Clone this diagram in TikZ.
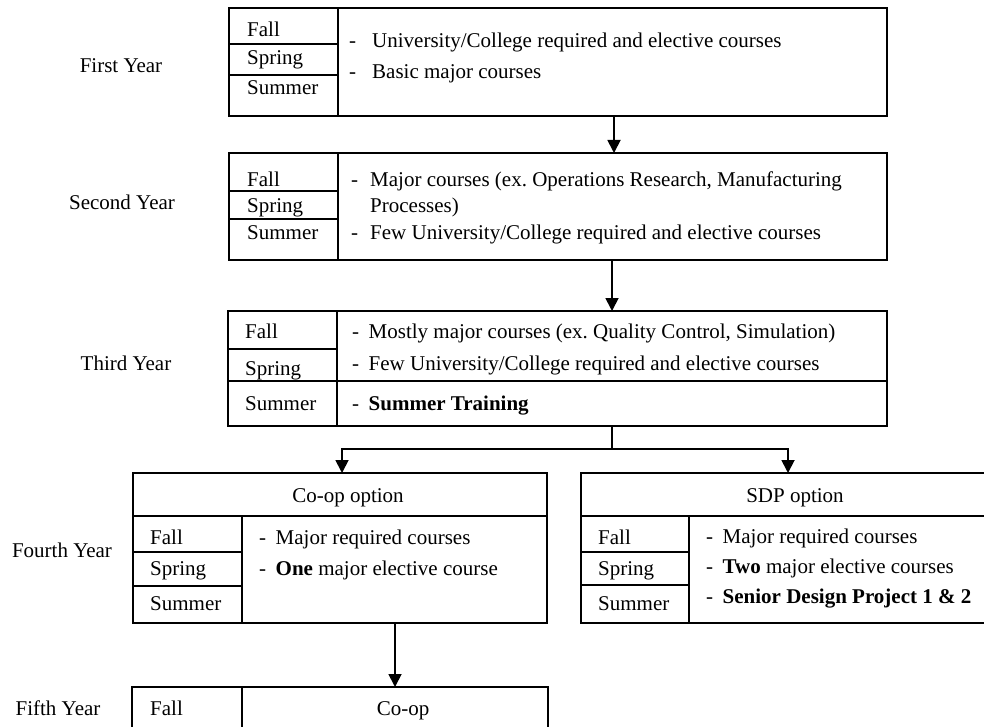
\documentclass[tikz,border=0pt]{standalone}
\usepackage{fontspec}
\setmainfont{Liberation Serif}
\usetikzlibrary{arrows.meta}
\newcommand\ditem[2][16.5pt]{\makebox[#1][l]{-}#2}
\frenchspacing
\begin{document}
\begin{tikzpicture}[x=1pt,y=-1pt,
  box/.style={draw, line width=1.6pt, inner sep=0, outer sep=0, anchor=north west},
  txt/.style={inner sep=0, anchor=base west, font=\fontsize{21}{25}\selectfont},
  ctxt/.style={inner sep=0, anchor=base, font=\fontsize{21}{25}\selectfont},
  rule/.style={line width=1.6pt},
  arr/.style={line width=1.8pt, -{Triangle[width=13pt,length=13pt]}},
  link/.style={line width=1.8pt}]
\path[use as bounding box] (0,0) rectangle (984,727);
\clip (0,0) rectangle (984,727);

% ---------- boxes ----------
\node[box, minimum width=658pt, minimum height=108pt] (y1) at (229,8) {};
\node[box, minimum width=658pt, minimum height=107pt] (y2) at (229,153) {};
\node[box, minimum width=659pt, minimum height=115pt] (y3) at (228,311) {};
\node[box, minimum width=414pt, minimum height=150pt] (coop) at (133,473) {};
\node[box, minimum width=420pt, minimum height=150pt] (sdp) at (581,473) {};
\node[box, minimum width=416pt, minimum height=70pt] (y5) at (132,687) {};

% ---------- internal rules ----------
\draw[rule] (338,8) -- (338,116);
\draw[rule] (229,44) -- (338,44);
\draw[rule] (229,75) -- (338,75);

\draw[rule] (338,153) -- (338,260);
\draw[rule] (229,191) -- (338,191);
\draw[rule] (229,219) -- (338,219);

\draw[rule] (337,311) -- (337,426);
\draw[rule] (228,349) -- (337,349);
\draw[rule] (228,381) -- (887,381);

\draw[rule] (133,516) -- (547,516);
\draw[rule] (242,516) -- (242,623);
\draw[rule] (133,552) -- (242,552);
\draw[rule] (133,586) -- (242,586);

\draw[rule] (581,516) -- (1001,516);
\draw[rule] (689,516) -- (689,623);
\draw[rule] (581,552) -- (689,552);
\draw[rule] (581,585) -- (689,585);

\draw[rule] (242,687) -- (242,757);

% ---------- year labels ----------
\node[ctxt] (l1) at (121,73) {First Year};
\node[ctxt] (l2) at (122,210) {Second Year};
\node[ctxt] (l3) at (126,370) {Third Year};
\node[ctxt] (l4) at (62,557) {Fourth Year};
\node[ctxt] (l5) at (58,715) {Fifth Year};

% ---------- first year ----------
\node[txt] (a1) at (247,37) {Fall};
\node[txt] (a2) at (247,65) {Spring};
\node[txt] (a3) at (247,95) {Summer};
\node[txt] (a4) at (349,48) {\ditem[23pt]{University/College required and elective courses}};
\node[txt] (a5) at (349,79) {\ditem[23pt]{Basic major courses}};

% ---------- second year ----------
\node[txt] (b1) at (247,187) {Fall};
\node[txt] (b2) at (247,213) {Spring};
\node[txt] (b3) at (247,240) {Summer};
\node[txt] (b4) at (351,187) {\ditem[19pt]{Major courses (ex. Operations Research, Manufacturing}};
\node[txt] (b5) at (351,213) {\makebox[19pt][l]{}Processes)};
\node[txt] (b6) at (351,240) {\ditem[19pt]{Few University/College required and elective courses}};

% ---------- third year ----------
\node[txt] (c1) at (245,338) {Fall};
\node[txt] (c2) at (245,375) {Spring};
\node[txt] (c3) at (245,410) {Summer};
\node[txt] (c4) at (352,338) {\ditem{Mostly major courses (ex. Quality Control, Simulation)}};
\node[txt] (c5) at (352,370) {\ditem{Few University/College required and elective courses}};
\node[txt] (c6) at (352,410) {\ditem{\textbf{Summer Training}}};

% ---------- fourth year: co-op ----------
\node[ctxt] (d0) at (348,502) {Co-op option};
\node[txt] (d1) at (150,544) {Fall};
\node[txt] (d2) at (150,575) {Spring};
\node[txt] (d3) at (150,610) {Summer};
\node[txt] (d4) at (259,544) {\ditem{Major required courses}};
\node[txt] (d5) at (259,575) {\ditem{\textbf{One} major elective course}};

% ---------- fourth year: SDP ----------
\node[ctxt] (e0) at (795,502) {SDP option};
\node[txt] (e1) at (598,544) {Fall};
\node[txt] (e2) at (598,575) {Spring};
\node[txt] (e3) at (598,610) {Summer};
\node[txt] (e4) at (706,543) {\ditem{Major required courses}};
\node[txt] (e5) at (706,573) {\ditem{\textbf{Two} major elective courses}};
\node[txt] (e6) at (706,603) {\ditem{\textbf{Senior Design Project 1 \& 2}}};

% ---------- fifth year ----------
\node[txt] (f1) at (150,715) {Fall};
\node[ctxt] (f2) at (403,715) {Co-op};

% ---------- connectors ----------
\coordinate (k1) at (614,0);
\coordinate (k2) at (612,0);
\coordinate (j) at (612,449);
\coordinate (ja) at (342,449);
\coordinate (jb) at (788,449);
\coordinate (k4) at (395,0);
\draw[arr] (y1.south -| k1) -- (y2.north -| k1);
\draw[arr] (y2.south -| k2) -- (y3.north -| k2);
\draw[link] (y3.south -| j) -- (j);
\draw[arr] (j) -| (coop.north -| ja);
\draw[arr] (j) -| (sdp.north -| jb);
\draw[arr] (coop.south -| k4) -- (y5.north -| k4);
\end{tikzpicture}
\end{document}
